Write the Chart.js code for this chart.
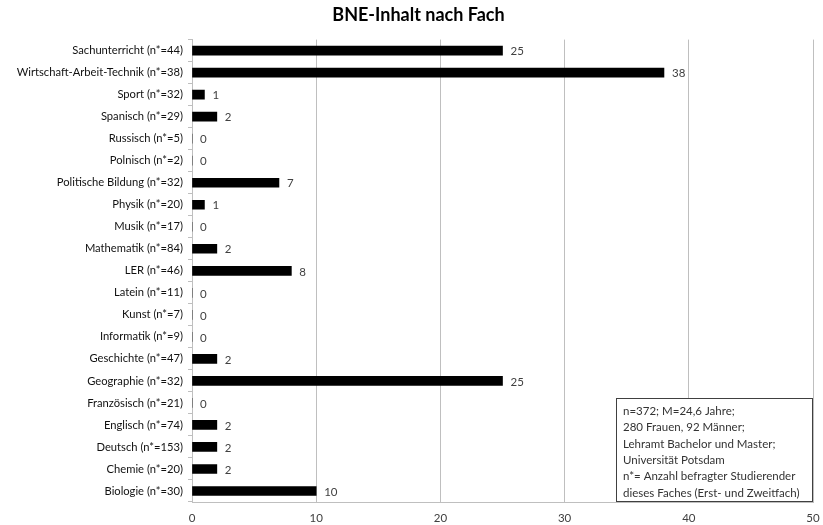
<!DOCTYPE html>
<html><head><meta charset="utf-8">
<script src="https://cdn.jsdelivr.net/npm/chart.js@4"></script>
<style>html,body{margin:0;padding:0;background:#fff}#wrap{width:823px;height:525px}</style>
</head><body><div id="wrap"><canvas id="c" width="823" height="525"></canvas></div>
<script>
const subjects = ["Sachunterricht","Wirtschaft-Arbeit-Technik","Sport","Spanisch","Russisch","Polnisch","Politische Bildung","Physik","Musik","Mathematik","LER","Latein","Kunst","Informatik","Geschichte","Geographie","Französisch","Englisch","Deutsch","Chemie","Biologie"];
const nCounts = [44,38,32,29,5,2,32,20,17,84,46,11,7,9,47,32,21,74,153,20,30];
const values = [25,38,1,2,0,0,7,1,0,2,8,0,0,0,2,25,0,2,2,2,10];
const xTicks = [0,10,20,30,40,50];
const noteLines = ["n=372; M=24,6 Jahre;","280 Frauen, 92 Männer;","Lehramt Bachelor und Master;","Universität Potsdam","n*= Anzahl befragter Studierender","dieses Faches (Erst- und Zweitfach)"];
const titleText = "BNE-Inhalt nach Fach";

const labels = subjects.map((s,i)=>s+" (n*="+nCounts[i]+")");
const FONT = "Lato, 'Open Sans', sans-serif";

const valueLabels = {
  id:'valueLabels',
  afterDatasetsDraw(chart){
    const ctx=chart.ctx; const meta=chart.getDatasetMeta(0);
    ctx.save(); ctx.fillStyle='#404040'; ctx.font='11.5px '+FONT; ctx.textBaseline='middle'; ctx.textAlign='left';
    meta.data.forEach((bar,i)=>{ ctx.fillText(String(values[i]), bar.x+8, bar.y+1); });
    ctx.restore();
  }
};
const noteBox = {
  id:'noteBox',
  afterDraw(chart){
    const ctx=chart.ctx, a=chart.chartArea;
    const w=197, h=104, x=a.right-w, y=a.bottom-h;
    ctx.save();
    ctx.fillStyle='#fff'; ctx.fillRect(x,y,w,h);
    ctx.strokeStyle='#404040'; ctx.lineWidth=1; ctx.strokeRect(x+0.5,y+0.5,w-1,h-1);
    ctx.fillStyle='#333'; ctx.font='11.5px '+FONT; ctx.textBaseline='middle'; ctx.textAlign='left';
    noteLines.forEach((t,i)=>ctx.fillText(t, x+7, y+13+i*16.4));
    ctx.restore();
  }
};

new Chart(document.getElementById('c'),{
  type:'bar',
  data:{labels:labels, datasets:[{data:values, backgroundColor:'#000', borderWidth:0, barThickness:9}]},
  options:{
    indexAxis:'y', responsive:false, animation:false,
    layout:{padding:{left:14,right:0,top:0,bottom:0}},
    plugins:{
      legend:{display:false}, tooltip:{enabled:false},
      title:{display:true, text:titleText, color:'#000', font:{family:FONT, size:18, weight:'bold'}, padding:{top:4,bottom:14}}
    },
    scales:{
      x:{min:0,max:50, afterBuildTicks(s){s.ticks=xTicks.map(v=>({value:v}));},
        grid:{color:'#bfbfbf', drawTicks:false, tickLength:0},
        border:{color:'#bfbfbf'},
        ticks:{color:'#404040', font:{family:FONT,size:11.5}, padding:9},
        afterFit(s){s.height=23; s.paddingLeft=0; s.paddingRight=10;}
      },
      y:{grid:{display:true, drawOnChartArea:false, color:'#bfbfbf', tickLength:4, offset:true},
        border:{color:'#bfbfbf'},
        ticks:{color:'#111', font:{family:FONT,size:11.2}, padding:5, autoSkip:false},
        afterFit(s){s.width=178; s.paddingTop=0; s.paddingBottom=0;}
      }
    }
  },
  plugins:[valueLabels, noteBox]
});
</script></body></html>
